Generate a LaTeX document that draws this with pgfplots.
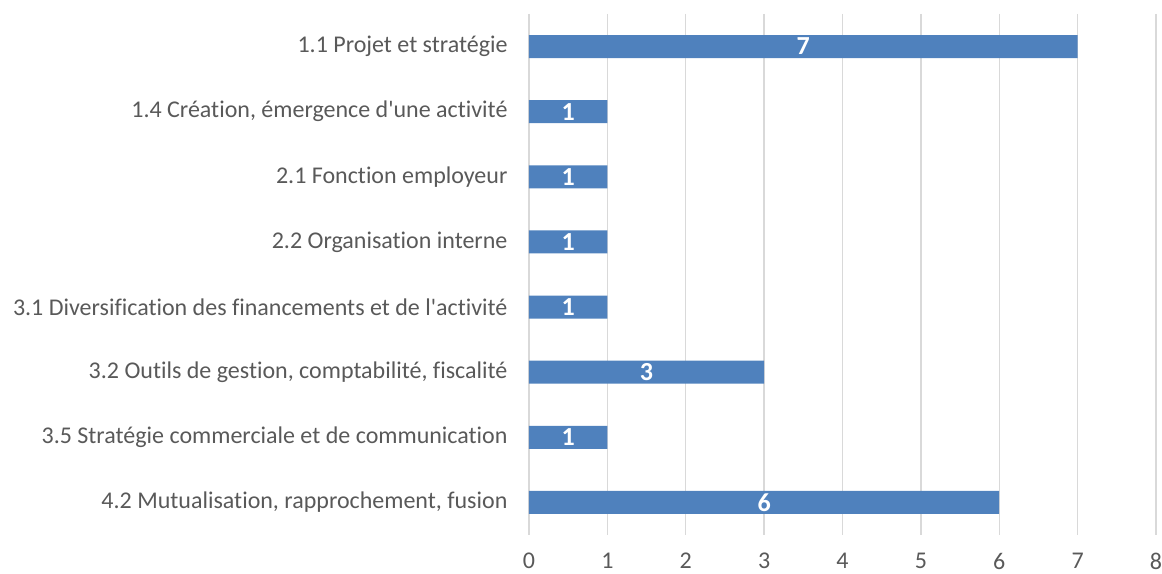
\documentclass[border=0pt]{standalone}
\usepackage{pgfplots}
\pgfplotsset{compat=1.18}
\usepackage{pgfplotstable}
\usepackage{fontspec}
\setmainfont[Ligatures={NoCommon,TeXOff}]{Carlito}
\usetikzlibrary{calc}
\definecolor{barblue}{HTML}{4F81BD}
\definecolor{txtgray}{HTML}{595959}
\definecolor{gridgray}{HTML}{D9D9D9}
\pgfplotstableread{
idx v
0 7
1 1
2 1
3 1
4 1
5 3
6 1
7 6
}\datatab
\begin{document}
\begin{tikzpicture}[x=1pt,y=1pt]
\begin{axis}[
  name=ax,
  scale only axis,
  width=627pt, height=521pt,
  xmin=0, xmax=8,
  ymin=-0.5, ymax=7.5,
  y dir=reverse,
  xtick={0,...,8},
  ytick={0,...,7},
  yticklabels={1.1 Projet et stratégie,1.4 Création{,} émergence d'une activité,2.1 Fonction employeur,2.2 Organisation interne,3.1 Diversification des financements et de l'activité,3.2 Outils de gestion{,} comptabilité{,} fiscalité,3.5 Stratégie commerciale et de communication,4.2 Mutualisation{,} rapprochement{,} fusion},
  xmajorgrids,
  major grid style={gridgray, line width=1.3pt},
  axis line style={draw=none},
  major tick length=0pt,
  tick label style={font=\fontsize{24}{28}\selectfont, text=txtgray},
  /pgf/number format/assume math mode=true,
  xticklabel style={yshift=-17pt, inner ysep=1pt},
  yticklabel style={xshift=-18pt},
  clip=false,
]
\addplot[xbar, fill=barblue, draw=none, bar width=23pt] table[x=v, y=idx] {\datatab};
\addplot[draw=none, mark=none, nodes near coords, point meta=explicit,
  every node near coord/.style={anchor=center, text=white, font=\fontsize{26}{28}\selectfont\bfseries}]
  table[x expr=\thisrow{v}/2, y=idx, meta=v] {\datatab};
\end{axis}
\pgfresetboundingbox
\path[use as bounding box] ($(ax.south west)+(-529pt,-39pt)$) rectangle ($(ax.north east)+(6pt,14pt)$);
\end{tikzpicture}
\end{document}
